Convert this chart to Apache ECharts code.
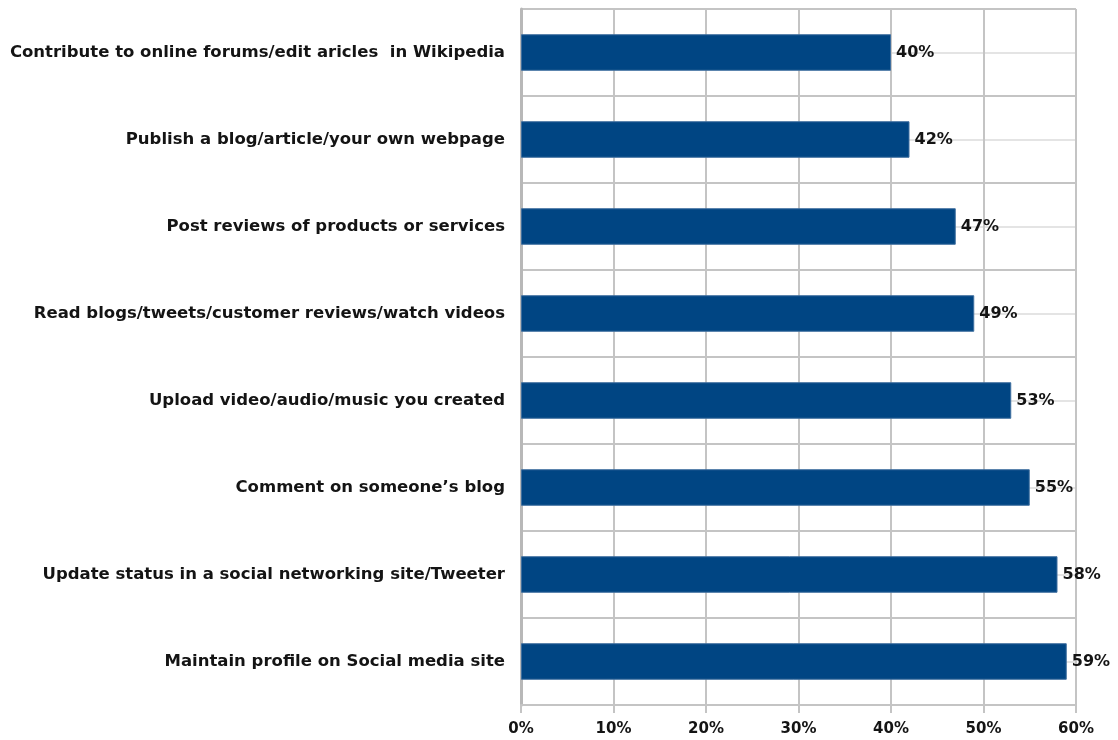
<!DOCTYPE html>
<html>
<head>
<meta charset="utf-8">
<script src="https://cdn.jsdelivr.net/npm/echarts@6/dist/echarts.min.js"></script>
<style>
  html, body { margin: 0; padding: 0; background: #ffffff; }
  #chart { width: 1118px; height: 740px; }
</style>
</head>
<body>
<div id="chart"></div>
<script>
// Online activities, share of respondents (%)
const activities = [
  'Contribute to online forums/edit aricles  in Wikipedia',
  'Publish a blog/article/your own webpage',
  'Post reviews of products or services',
  'Read blogs/tweets/customer reviews/watch videos',
  'Upload video/audio/music you created',
  'Comment on someone\u2019s blog',
  'Update status in a social networking site/Tweeter',
  'Maintain profile on Social media site'
];
const shares = [40, 42, 47, 49, 53, 55, 58, 59];
const axisMax = 60;
const axisStep = 10;

const textFont = '"DejaVu Sans", sans-serif';
const gridGray = '#c4c4c4';

const chart = echarts.init(document.getElementById('chart'), null, { renderer: 'canvas' });

chart.setOption({
  animation: false,
  backgroundColor: '#ffffff',
  grid: { left: 521, right: 42, top: 9, bottom: 35, containLabel: false },
  xAxis: {
    type: 'value',
    min: 0,
    max: axisMax,
    interval: axisStep,
    axisLine: { show: true, lineStyle: { color: gridGray, width: 2 } },
    axisTick: { show: true, length: 8, lineStyle: { color: gridGray, width: 2 } },
    splitLine: { show: true, lineStyle: { color: gridGray, width: 2 } },
    axisLabel: {
      formatter: '{value}%',
      margin: 17,
      color: '#141414',
      fontFamily: textFont,
      fontWeight: 'bold',
      fontSize: 15
    }
  },
  yAxis: [
    {
      type: 'category',
      data: activities,
      inverse: true,
      axisLine: { show: true, lineStyle: { color: '#b8b8b8', width: 3 } },
      axisTick: { show: false },
      splitLine: { show: true, lineStyle: { color: gridGray, width: 2 } },
      axisLabel: {
        margin: 16,
        color: '#141414',
        fontFamily: textFont,
        fontWeight: 'bold',
        fontSize: 16.5
      }
    },
    {
      // helper scale that puts light lines through the middle of every band
      type: 'value',
      min: 0,
      max: activities.length,
      interval: 1,
      axisLine: { show: false },
      axisTick: { show: false },
      axisLabel: { show: false },
      splitLine: { show: false },
      minorTick: { show: false, splitNumber: 2 },
      minorSplitLine: { show: true, lineStyle: { color: '#e4e4e4', width: 2 } }
    }
  ],
  series: [
    {
      type: 'bar',
      yAxisIndex: 0,
      data: shares,
      barWidth: '42%',
      z: 3,
      itemStyle: { color: '#004583', borderColor: '#3f6f9f', borderWidth: 1 },
      label: {
        show: true,
        position: 'right',
        distance: 5,
        formatter: '{c}%',
        color: '#141414',
        fontFamily: textFont,
        fontWeight: 'bold',
        fontSize: 16
      }
    }
  ]
});
</script>
</body>
</html>
